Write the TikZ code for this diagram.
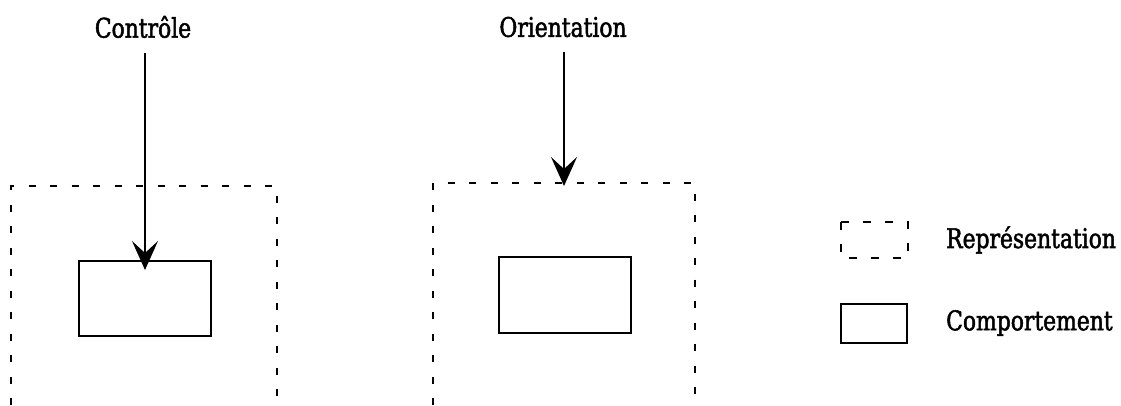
\documentclass[tikz,border=0pt]{standalone}
\usepackage{fontspec}
\setmainfont{DejaVu Serif Condensed}[BoldFont=DejaVu Serif Condensed, BoldFeatures={FakeBold=2}]
\usetikzlibrary{arrows.meta}
\begin{document}
\begin{tikzpicture}[x=1pt,y=-1pt,
  lbl/.style={font=\fontsize{27}{30}\selectfont\bfseries, inner sep=0pt, xscale=0.9, transform shape},
  dashbox/.style={line width=1.4pt, dash pattern=on 7pt off 14.5pt},
  arr/.style={line width=1.3pt, -{Stealth[length=29pt, width=26pt, inset=12pt]}}]
\useasboundingbox (0,0) rectangle (1121,405);
% titles
\node[lbl] (ctl) at (143,27) {Contrôle};
\node[lbl] (ori) at (563,27) {Orientation};
% dashed representation frames (open at the bottom)
\draw[dashbox] (11,405) -- (11,186) -- (277,186) -- (277,405);
\draw[dashbox] (433,405) -- (433,183) -- (695,183) -- (695,405);
% behaviour boxes
\node[draw, line width=1.4pt, minimum width=132pt, minimum height=75pt, inner sep=0pt] (b1) at (145,298.5) {};
\node[draw, line width=1.4pt, minimum width=132pt, minimum height=76pt, inner sep=0pt] (b2) at (565,295) {};
% arrows
\coordinate (c1s) at (145,53);
\coordinate (c1e) at (145,270);
\coordinate (c2s) at (564,52);
\coordinate (c2e) at (564,186);
\draw[arr] (c1s) -- (c1e);
\draw[arr] (c2s) -- (c2e);
% legend
\draw[dashbox, dash pattern=on 8pt off 14pt] (841,222) rectangle (908,258);
\node[draw, line width=1.4pt, minimum width=66pt, minimum height=39pt, inner sep=0pt] (lg2) at (874,323.5) {};
\node[lbl, anchor=west] (t1) at (946,240) {Représentation};
\node[lbl, anchor=west] (t2) at (946,323) {Comportement};
\end{tikzpicture}
\end{document}
